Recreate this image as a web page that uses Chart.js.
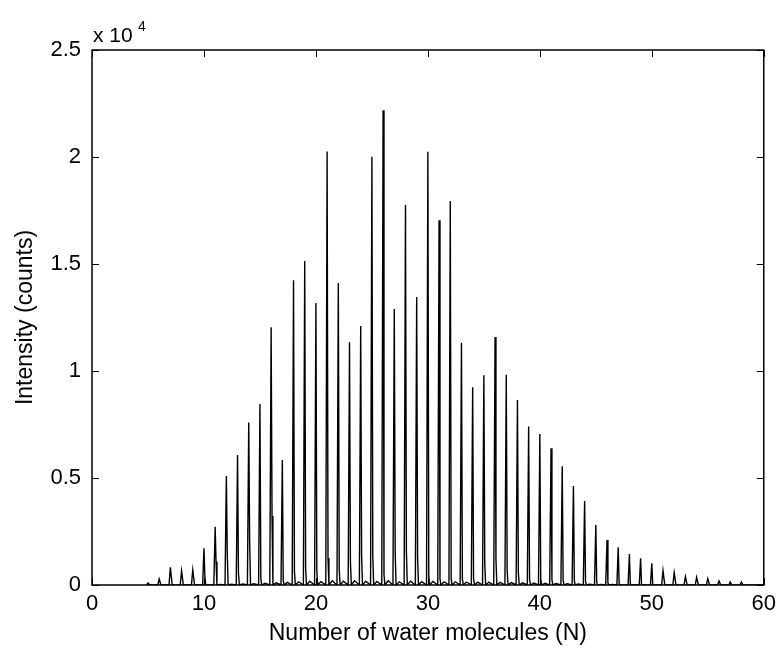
<!DOCTYPE html>
<html>
<head>
<meta charset="utf-8">
<script src="https://cdn.jsdelivr.net/npm/chart.js@4.4.0/dist/chart.umd.min.js"></script>
<style>
  html, body { margin: 0; padding: 0; background: #fff; }
  #wrap { width: 782px; height: 648px; }
</style>
</head>
<body>
<div id="wrap"><canvas id="grafico"></canvas></div>
<script>
// number of water molecules in the cluster
const waterN = [5, 6, 7, 8, 9, 10, 11, 12, 13, 14, 15, 16, 17, 18, 19, 20, 21, 22, 23, 24, 25, 26, 27, 28, 29, 30,
    31, 32, 33, 34, 35, 36, 37, 38, 39, 40, 41, 42, 43, 44, 45, 46, 47, 48, 49, 50, 51, 52, 53, 54, 55, 56, 57, 58];
// main peak height (counts)
const mainPeak = [100, 280, 830, 650, 700, 1720, 2720, 5090, 6070, 7590, 8460, 12050, 5840, 14240, 15140, 13180,
    20260, 14110, 11340, 12100, 20010, 22180, 12900, 17760, 13460, 20250, 17040, 17940, 11320, 9240, 9800, 11590,
    9830, 8640, 7410, 7060, 6390, 5550, 4630, 3930, 2800, 2100, 1760, 1450, 1250, 1010, 670, 580, 390, 360, 300,
    190, 140, 140];
// small satellite peak next to each main peak
const satPeak = [0, 0, 0, 0, 0, 390, 1090, 1510, 560, 2060, 300, 3220, 200, 640, 800, 680, 1260, 750, 1120, 1400,
    1310, 500, 1510, 1600, 1280, 400, 300, 300, 300, 300, 1010, 1210, 700, 580, 300, 280, 250, 220, 200, 150, 120,
    100, 80, 60, 50, 40, 0, 0, 0, 0, 0, 0, 0, 0];
// background hump between peaks
const fundo = [0, 0, 0, 0, 0, 0, 30, 40, 50, 60, 80, 100, 120, 150, 180, 160, 200, 180, 200, 180, 170, 200, 150,
    180, 160, 170, 150, 150, 140, 130, 130, 120, 110, 100, 90, 80, 70, 60, 50, 40, 30, 20, 0, 0, 0, 0, 0, 0, 0, 0,
    0, 0, 0, 0];
// y tick labels (x 10^4)
const yTicks = [0, 5000, 10000, 15000, 20000, 25000];

// spectrum as a line through the peaks
const espectro = [];
waterN.forEach((n, i) => {
    espectro.push({x: n - 0.12, y: 0});
    espectro.push({x: n, y: mainPeak[i]});
    if (satPeak[i] > 0) espectro.push({x: n + 0.08, y: satPeak[i]});
    espectro.push({x: n + 0.16, y: 0});
    if (fundo[i] > 0) espectro.push({x: n + 0.45, y: fundo[i]});
});
espectro.push({x: 60, y: 0});

const fonte = "'Liberation Sans', Arial, Helvetica, sans-serif";

// box, inward ticks and the "x 10^4" multiplier
const moldura = {
    id: 'moldura',
    afterDraw(chart) {
        const c = chart.ctx, a = chart.chartArea;
        const sx = chart.scales.x, sy = chart.scales.y;
        c.save();
        c.strokeStyle = '#000';
        c.lineWidth = 1.5;
        c.strokeRect(a.left, a.top, a.right - a.left, a.bottom - a.top);
        c.lineWidth = 1;
        c.beginPath();
        sx.ticks.forEach(t => {
            const px = Math.round(sx.getPixelForValue(t.value)) + 0.5;
            c.moveTo(px, a.bottom); c.lineTo(px, a.bottom - 7);
            c.moveTo(px, a.top); c.lineTo(px, a.top + 7);
        });
        yTicks.forEach(v => {
            const py = Math.round(sy.getPixelForValue(v)) + 0.5;
            c.moveTo(a.left, py); c.lineTo(a.left + 7, py);
            c.moveTo(a.right, py); c.lineTo(a.right - 7, py);
        });
        c.stroke();
        c.fillStyle = '#000';
        c.textBaseline = 'alphabetic';
        c.textAlign = 'left';
        c.font = '21px ' + fonte;
        c.fillText('x 10', a.left + 1, a.top - 8);
        c.font = '14px ' + fonte;
        c.fillText('4', a.left + 46, a.top - 19);
        c.restore();
    }
};

const ctx = document.querySelector('#grafico');

new Chart(ctx, {
    type: 'line',
    data: {
        datasets: [{
            label: 'Intensity',
            data: espectro,
            borderColor: '#000',
            borderWidth: 1.4,
            pointRadius: 0,
            tension: 0,
            fill: false
        }]
    },
    plugins: [moldura],
    options: {
        responsive: true,
        maintainAspectRatio: false,
        animation: false,
        layout: { padding: { top: 50, right: 15, left: 0, bottom: 0 } },
        plugins: {
            legend: { display: false },
            tooltip: { enabled: false }
        },
        scales: {
            x: {
                type: 'linear',
                min: 0,
                max: 60,
                grid: { display: false, drawTicks: false },
                border: { display: false },
                ticks: { stepSize: 10, padding: 6, color: '#000', font: { family: fonte, size: 22 } },
                title: {
                    display: true,
                    text: 'Number of water molecules (N)',
                    color: '#000',
                    font: { family: fonte, size: 23 },
                    padding: { top: 0, bottom: 1 }
                },
                afterFit(scale) { scale.height = 63; }
            },
            y: {
                min: 0,
                max: 25000,
                grid: { display: false, drawTicks: false },
                border: { display: false },
                afterBuildTicks(scale) { scale.ticks = yTicks.map(v => ({value: v})); },
                ticks: {
                    padding: 11,
                    color: '#000',
                    font: { family: fonte, size: 22 },
                    callback: v => String(v / 10000)
                },
                title: {
                    display: true,
                    text: 'Intensity (counts)',
                    color: '#000',
                    font: { family: fonte, size: 23 },
                    padding: { top: 12, bottom: 0 }
                },
                afterFit(scale) { scale.width = 92; }
            }
        }
    }
});
</script>
</body>
</html>
